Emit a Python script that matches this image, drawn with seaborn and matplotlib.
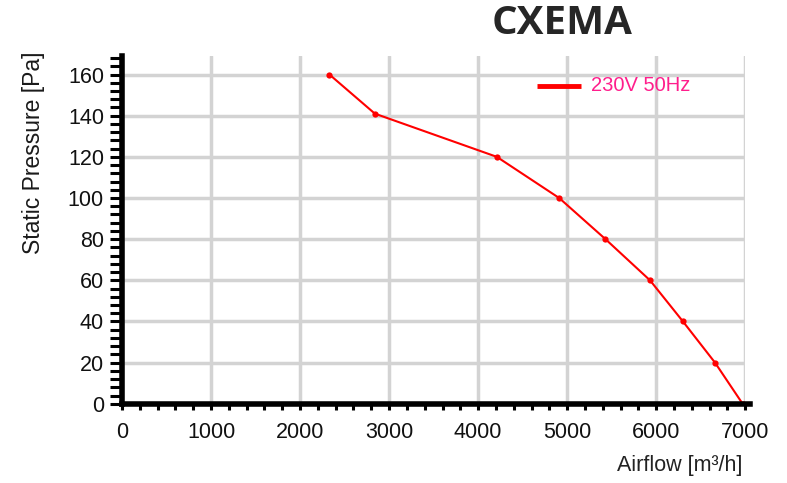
import matplotlib
matplotlib.use('Agg')
import matplotlib.pyplot as plt
import seaborn as sns
import pandas as pd
import numpy as np
from matplotlib.ticker import MultipleLocator

# fan curve
airflow = [2330, 2840, 4210, 4910, 5430, 5930, 6300, 6660, 6970]
pressure = [160, 141, 120, 100, 80, 60, 40, 20, 0]
series = '230V 50Hz'

xticks = [0, 1000, 2000, 3000, 4000, 5000, 6000, 7000]
yticks = [0, 20, 40, 60, 80, 100, 120, 140, 160]

df = pd.DataFrame({'Airflow': airflow, 'Pressure': pressure, 'Series': series})

sns.set_style('white')
plt.rcParams['font.family'] = ['Liberation Sans', 'DejaVu Sans']

fig = plt.figure(figsize=(7.87, 4.83), dpi=100)
ax = fig.add_axes([0.155, 0.164, 0.792, 0.72])

sns.lineplot(data=df, x='Airflow', y='Pressure', sort=False, color='#ff0000',
             linewidth=1.5, marker='o', markersize=4.5, markeredgewidth=0,
             legend=False, ax=ax, zorder=5)

ax.set_xlim(0, 7000)
ax.set_ylim(0, 169)
ax.set_xticks(xticks)
ax.set_yticks(yticks)
ax.xaxis.set_minor_locator(MultipleLocator(200))
ax.yaxis.set_minor_locator(MultipleLocator(4))
ax.grid(True, which='major', color='#d3d3d3', linewidth=2.5, zorder=0)
ax.set_axisbelow(True)

for s in ['top', 'right']:
    ax.spines[s].set_visible(False)
for s in ['left', 'bottom']:
    ax.spines[s].set_linewidth(4)
    ax.spines[s].set_color('black')
    ax.spines[s].set_zorder(6)
ax.spines['bottom'].set_bounds(0, 7050)

ax.tick_params(axis='y', which='both', left=True, direction='out', length=9, width=2.2,
               color='black')
ax.tick_params(axis='y', which='major', labelsize=15.5, pad=4, labelcolor='#111111')
ax.tick_params(axis='x', which='both', bottom=True, direction='out', length=4, width=2.2,
               color='black')
ax.tick_params(axis='x', which='major', labelsize=15.5, pad=9, labelcolor='#111111')

ax.set_ylabel('')
ax.set_xlabel('')
# axis titles sit off-centre in the original
fig.text(0.042, 0.683, 'Static Pressure [Pa]', rotation=90, ha='center', va='center',
         fontsize=16.5, color='#1a1a1a')
fig.text(0.943, 0.025, 'Airflow [m\u00b3/h]', ha='right', va='baseline',
         fontsize=15.5, color='#222222')

# legend
ax.plot([0.666, 0.737], [0.914, 0.914], transform=ax.transAxes, color='#ff0000',
        linewidth=3.5, solid_capstyle='butt', zorder=7)
ax.text(0.752, 0.914, series, transform=ax.transAxes, fontsize=14.5,
        color='#ff1e8c', va='center', ha='left', zorder=7)

fig.text(0.714, 0.952, 'CXEMA', ha='center', va='center', fontsize=29,
         fontweight='bold', color='#262626', family=['Open Sans', 'DejaVu Sans'])

fig.savefig('out.png', dpi=100)
